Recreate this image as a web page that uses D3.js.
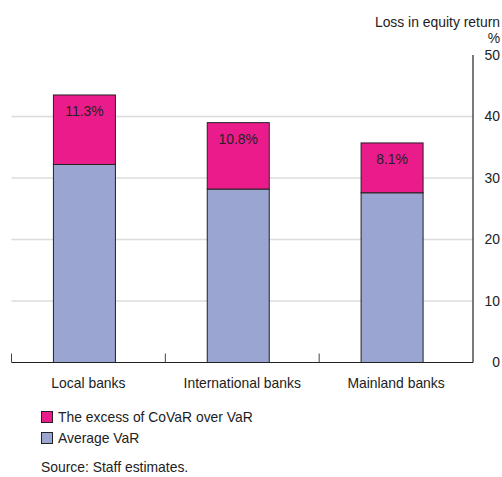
<!DOCTYPE html>
<html><head><meta charset="utf-8">
<script src="https://cdn.jsdelivr.net/npm/d3@7"></script>
<style>body{margin:0;background:#fff}svg{display:block}text{font-family:"Liberation Sans",Arial,Helvetica,sans-serif;fill:#222}</style>
</head><body>
<svg id="c" width="502" height="477"></svg>
<script>
const categories = ["Local banks", "International banks", "Mainland banks"];
const averageVaR = [32.2, 28.2, 27.6];
const excessCoVaR = [11.3, 10.8, 8.1];
const excessLabels = ["11.3%", "10.8%", "8.1%"];
const yTicks = [0, 10, 20, 30, 40, 50];
const seriesNames = ["The excess of CoVaR over VaR", "Average VaR"];
const colors = {excess: "#ea1c8c", var: "#9aa5d1"};

const svg = d3.select("#c");
const fs = "13.9px";
const x = d3.scaleBand().domain(categories).range([11.5, 473]).paddingInner(0).paddingOuter(0);
const y = d3.scaleLinear().domain([0, 50]).range([362.5, 55]);
const barW = 62, barShift = -4;

// gridlines
svg.append("g").selectAll("line").data(yTicks.filter(d => d > 0 && d < 50)).join("line")
  .attr("x1", 11.5).attr("x2", 473).attr("y1", d => y(d)).attr("y2", d => y(d))
  .attr("stroke", "#dcdcdc").attr("stroke-width", 1.5);

// right axis
const ya = svg.append("g").attr("transform", "translate(473,0)")
  .call(d3.axisRight(y).tickValues(yTicks).tickSize(0).tickPadding(0));
ya.select(".domain").remove();
svg.append("line").attr("x1", 473).attr("x2", 473).attr("y1", y(50)).attr("y2", y(0)).attr("stroke", "#222").attr("stroke-width", 1.2);
ya.selectAll("text").attr("x", 27).attr("text-anchor", "end").style("font-size", fs).attr("fill", "#222")
  .attr("font-family", "Liberation Sans, Arial, sans-serif");

// bars
const data = categories.map((c, i) => ({c, v: averageVaR[i], e: excessCoVaR[i], lab: excessLabels[i]}));
const bx = d => x(d.c) + x.bandwidth() / 2 - barW / 2 + barShift;
svg.append("g").selectAll("rect").data(data).join("rect")
  .attr("x", bx).attr("width", barW)
  .attr("y", d => y(d.v)).attr("height", d => y(0) - y(d.v))
  .attr("fill", colors.var).attr("stroke", "#222").attr("stroke-width", 1);
svg.append("g").selectAll("rect").data(data).join("rect")
  .attr("x", bx).attr("width", barW)
  .attr("y", d => y(d.v + d.e)).attr("height", d => y(d.v) - y(d.v + d.e))
  .attr("fill", colors.excess).attr("stroke", "#222").attr("stroke-width", 1);
svg.append("g").selectAll("text").data(data).join("text")
  .attr("x", d => bx(d) + barW / 2).attr("y", d => y(d.v + d.e) + 16)
  .attr("text-anchor", "middle").attr("dominant-baseline", "central").style("font-size", fs)
  .text(d => d.lab);

// x axis baseline and category ticks
svg.append("line").attr("x1", 11.5).attr("x2", 473).attr("y1", y(0)).attr("y2", y(0)).attr("stroke", "#222").attr("stroke-width", 1.2);
svg.append("g").selectAll("line").data(categories).join("line")
  .attr("x1", d => x(d)).attr("x2", d => x(d)).attr("y1", y(0)).attr("y2", y(0) - 9)
  .attr("stroke", "#444").attr("stroke-width", 1);
svg.append("g").selectAll("text").data(categories).join("text")
  .attr("x", d => x(d) + x.bandwidth() / 2).attr("y", 383)
  .attr("text-anchor", "middle").attr("dominant-baseline", "central").style("font-size", fs)
  .text(d => d);

// axis title
svg.append("text").attr("x", 500).attr("y", 22).attr("text-anchor", "end").attr("dominant-baseline", "central").style("font-size", fs).text("Loss in equity return");
svg.append("text").attr("x", 500).attr("y", 38).attr("text-anchor", "end").attr("dominant-baseline", "central").style("font-size", fs).text("%");

// legend
const lg = svg.append("g");
[colors.excess, colors.var].forEach((c, i) => {
  lg.append("rect").attr("x", 41.5).attr("y", 411.5 + i * 21).attr("width", 11).attr("height", 11)
    .attr("fill", c).attr("stroke", "#222").attr("stroke-width", 1);
  lg.append("text").attr("x", 58).attr("y", 417 + i * 21).attr("dominant-baseline", "central").style("font-size", fs).text(seriesNames[i]);
});
svg.append("text").attr("x", 41).attr("y", 467).attr("dominant-baseline", "central").style("font-size", fs).text("Source: Staff estimates.");
</script>
</body></html>
